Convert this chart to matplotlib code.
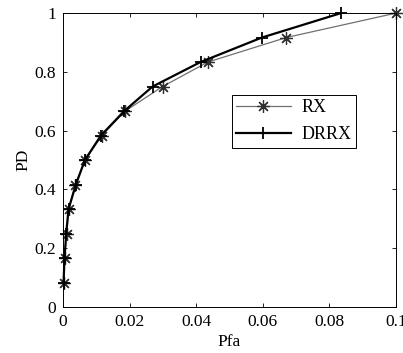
import matplotlib
matplotlib.use("Agg")
import matplotlib.pyplot as plt

pd_levels = [1/12, 2/12, 3/12, 4/12, 5/12, 6/12, 7/12, 8/12, 9/12, 10/12, 11/12, 1.0]
rx_pfa = [0.0002, 0.0005, 0.0011, 0.0018, 0.0037, 0.0067, 0.0117, 0.0187, 0.0299, 0.0435, 0.0670, 0.1000]
drrx_pfa = [0.0002, 0.0005, 0.0010, 0.0017, 0.0039, 0.0066, 0.0114, 0.0184, 0.0269, 0.0413, 0.0597, 0.0835]

x_ticks = [0, 0.02, 0.04, 0.06, 0.08, 0.1]
x_labels = ["0", "0.02", "0.04", "0.06", "0.08", "0.1"]
y_ticks = [0, 0.2, 0.4, 0.6, 0.8, 1]
y_labels = ["0", "0.2", "0.4", "0.6", "0.8", "1"]

plt.rcParams['font.family'] = ['Liberation Serif', 'DejaVu Serif']
plt.rcParams['font.size'] = 12.5

fig = plt.figure(figsize=(4.03, 3.53), dpi=100)
ax = fig.add_axes([0.156, 0.130, 0.827, 0.833])

ax.plot(rx_pfa, pd_levels, color='#707070', lw=0.9, marker=(8, 2, 0),
        ms=9, mew=0.9, mec='#303030', label='RX', clip_on=False)
ax.plot(drrx_pfa, pd_levels, color='black', lw=1.6, marker='+',
        ms=9, mew=1.3, label='DRRX', clip_on=False)

ax.set_xlim(0, 0.1)
ax.set_ylim(0, 1)
ax.set_xticks(x_ticks)
ax.set_xticklabels(x_labels)
ax.set_yticks(y_ticks)
ax.set_yticklabels(y_labels)
ax.tick_params(direction='in', length=3, width=0.6, top=True, right=True,
               labeltop=False, labelright=False, pad=5)
for s in ax.spines.values():
    s.set_linewidth(0.7)
ax.set_xlabel('Pfa', labelpad=3)
ax.set_ylabel('PD', labelpad=2)

leg = ax.legend(loc='upper left', bbox_to_anchor=(0.507, 0.722), borderaxespad=0,
                fancybox=False, edgecolor='black', framealpha=1, borderpad=0.25,
                handlelength=3.0, labelspacing=0.55, handletextpad=0.6, fontsize=13)
leg.get_frame().set_linewidth(0.7)

fig.savefig("out.png", dpi=100)
